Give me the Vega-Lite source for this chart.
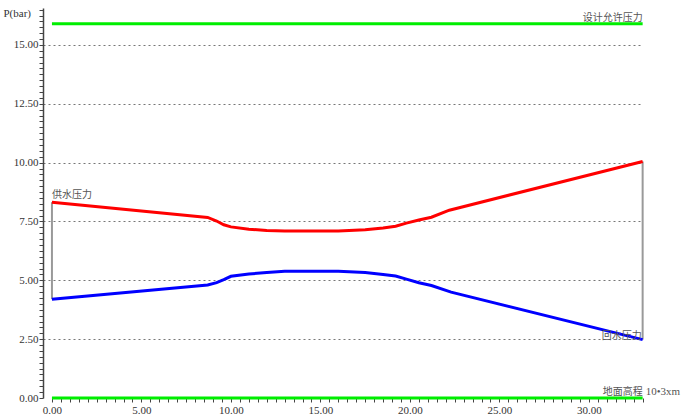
{
  "$schema": "https://vega.github.io/schema/vega-lite/v6.json",
  "width": 600,
  "height": 390,
  "autosize": {"type": "none"},
  "padding": {"left": 43, "top": 8, "right": 48, "bottom": 20},
  "background": "white",
  "config": {"view": {"stroke": null}},
  "datasets": {
    "lines": [
      {"x": 0, "p": 15.9, "s": "设计允许压力"},
      {"x": 33, "p": 15.9, "s": "设计允许压力"},
      {"x": 0, "p": 0, "s": "地面高程"},
      {"x": 33, "p": 0, "s": "地面高程"},
      {"x": 0, "p": 8.32, "s": "供水压力"},
      {"x": 8.7, "p": 7.67, "s": "供水压力"},
      {"x": 9.2, "p": 7.52, "s": "供水压力"},
      {"x": 9.6, "p": 7.36, "s": "供水压力"},
      {"x": 10.0, "p": 7.27, "s": "供水压力"},
      {"x": 11.0, "p": 7.17, "s": "供水压力"},
      {"x": 12.0, "p": 7.12, "s": "供水压力"},
      {"x": 13.0, "p": 7.1, "s": "供水压力"},
      {"x": 16.0, "p": 7.1, "s": "供水压力"},
      {"x": 17.5, "p": 7.15, "s": "供水压力"},
      {"x": 18.5, "p": 7.22, "s": "供水压力"},
      {"x": 19.2, "p": 7.3, "s": "供水压力"},
      {"x": 19.8, "p": 7.43, "s": "供水压力"},
      {"x": 20.5, "p": 7.56, "s": "供水压力"},
      {"x": 21.2, "p": 7.68, "s": "供水压力"},
      {"x": 22.2, "p": 7.98, "s": "供水压力"},
      {"x": 33, "p": 10.05, "s": "供水压力"},
      {"x": 0, "p": 4.2, "s": "回水压力"},
      {"x": 8.7, "p": 4.8, "s": "回水压力"},
      {"x": 9.2, "p": 4.9, "s": "回水压力"},
      {"x": 9.6, "p": 5.03, "s": "回水压力"},
      {"x": 10.0, "p": 5.17, "s": "回水压力"},
      {"x": 11.0, "p": 5.27, "s": "回水压力"},
      {"x": 12.0, "p": 5.33, "s": "回水压力"},
      {"x": 13.0, "p": 5.38, "s": "回水压力"},
      {"x": 16.0, "p": 5.38, "s": "回水压力"},
      {"x": 17.5, "p": 5.33, "s": "回水压力"},
      {"x": 18.5, "p": 5.25, "s": "回水压力"},
      {"x": 19.2, "p": 5.18, "s": "回水压力"},
      {"x": 19.8, "p": 5.05, "s": "回水压力"},
      {"x": 20.5, "p": 4.9, "s": "回水压力"},
      {"x": 21.2, "p": 4.78, "s": "回水压力"},
      {"x": 22.3, "p": 4.5, "s": "回水压力"},
      {"x": 33, "p": 2.48, "s": "回水压力"}
    ],
    "verticals": [
      {"x": 0, "p": 8.32, "p2": 4.2},
      {"x": 33, "p": 10.05, "p2": 2.48}
    ],
    "labelsLeft": [
      {"x": 0, "p": 8.32, "label": "供水压力"}
    ],
    "labelsRight": [
      {"x": 33, "p": 15.9, "label": "设计允许压力"},
      {"x": 33, "p": 0, "label": "地面高程"}
    ],
    "labelsMid": [
      {"x": 33, "p": 2.5, "label": "回水压力"}
    ],
    "unit": [
      {"x": 33, "p": 0, "label": "10•3xm"}
    ]
  },
  "encoding": {
    "x": {
      "field": "x",
      "type": "quantitative",
      "scale": {"domain": [-0.5, 33.02], "nice": false, "zero": false},
      "axis": {
        "title": null,
        "domain": false,
        "grid": false,
        "values": [0,0.5,1,1.5,2,2.5,3,3.5,4,4.5,5,5.5,6,6.5,7,7.5,8,8.5,9,9.5,10,10.5,11,11.5,12,12.5,13,13.5,14,14.5,15,15.5,16,16.5,17,17.5,18,18.5,19,19.5,20,20.5,21,21.5,22,22.5,23,23.5,24,24.5,25,25.5,26,26.5,27,27.5,28,28.5,29,29.5,30,30.5,31,31.5,32,32.5,33],
        "labelExpr": "datum.value % 5 == 0 ? format(datum.value, '.2f') : ''",
        "tickSize": 4,
        "tickColor": "#444444",
        "tickWidth": 1,
        "labelFont": "Liberation Serif",
        "labelFontSize": 11,
        "labelColor": "#333333",
        "labelPadding": 2,
        "labelOverlap": false,
        "labelFlush": false
      }
    },
    "y": {
      "field": "p",
      "type": "quantitative",
      "scale": {"domain": [0, 16.57], "nice": false, "zero": false},
      "axis": {
        "title": "P(bar)",
        "titleAngle": 0,
        "titleAlign": "left",
        "titleBaseline": "middle",
        "titleX": -40,
        "titleY": 5,
        "titleFont": "Liberation Serif",
        "titleFontSize": 11,
        "titleFontWeight": "normal",
        "titleColor": "#333333",
        "domain": true,
        "domainColor": "#444444",
        "domainWidth": 1.5,
        "values": [0,0.25,0.5,0.75,1,1.25,1.5,1.75,2,2.25,2.5,2.75,3,3.25,3.5,3.75,4,4.25,4.5,4.75,5,5.25,5.5,5.75,6,6.25,6.5,6.75,7,7.25,7.5,7.75,8,8.25,8.5,8.75,9,9.25,9.5,9.75,10,10.25,10.5,10.75,11,11.25,11.5,11.75,12,12.25,12.5,12.75,13,13.25,13.5,13.75,14,14.25,14.5,14.75,15,15.25,15.5,15.75,16,16.25,16.5],
        "labelExpr": "datum.value % 2.5 == 0 ? format(datum.value, '.2f') : ''",
        "tickSize": 4,
        "tickColor": "#444444",
        "tickWidth": 1,
        "labelFont": "Liberation Serif",
        "labelFontSize": 11,
        "labelColor": "#333333",
        "labelPadding": 1,
        "labelOverlap": false,
        "labelFlush": false,
        "grid": true,
        "gridColor": "#777777",
        "gridDash": [2, 3],
        "gridWidth": 1,
        "gridOpacity": {"condition": {"test": "datum.value % 2.5 == 0 && datum.value > 0", "value": 1}, "value": 0}
      }
    }
  },
  "layer": [
    {
      "data": {"name": "verticals"},
      "mark": {"type": "rule", "color": "#999999", "strokeWidth": 2},
      "encoding": {
        "y2": {"field": "p2"}
      }
    },
    {
      "data": {"name": "lines"},
      "mark": {"type": "line", "strokeWidth": 3, "interpolate": "linear"},
      "encoding": {
        "color": {
          "field": "s",
          "type": "nominal",
          "scale": {
            "domain": ["设计允许压力", "地面高程", "供水压力", "回水压力"],
            "range": ["#00ee00", "#00ee00", "#ff0000", "#0000ff"]
          },
          "legend": null
        }
      }
    },
    {
      "data": {"name": "labelsLeft"},
      "mark": {"type": "text", "align": "left", "baseline": "bottom", "dy": -2, "font": "Noto Sans CJK SC", "fontSize": 10, "color": "#555555"},
      "encoding": {
        "text": {"field": "label"}
      }
    },
    {
      "data": {"name": "labelsRight"},
      "mark": {"type": "text", "align": "right", "baseline": "bottom", "dy": -1, "font": "Noto Sans CJK SC", "fontSize": 10, "color": "#555555"},
      "encoding": {
        "text": {"field": "label"}
      }
    },
    {
      "data": {"name": "labelsMid"},
      "mark": {"type": "text", "align": "right", "baseline": "middle", "dy": -3, "dx": -1, "font": "Noto Sans CJK SC", "fontSize": 10, "color": "#555555"},
      "encoding": {
        "text": {"field": "label"}
      }
    },
    {
      "data": {"name": "unit"},
      "mark": {"type": "text", "align": "left", "baseline": "bottom", "dy": -1, "dx": 3, "font": "Liberation Serif", "fontSize": 11, "color": "#555555"},
      "encoding": {
        "text": {"field": "label"}
      }
    }
  ]
}
